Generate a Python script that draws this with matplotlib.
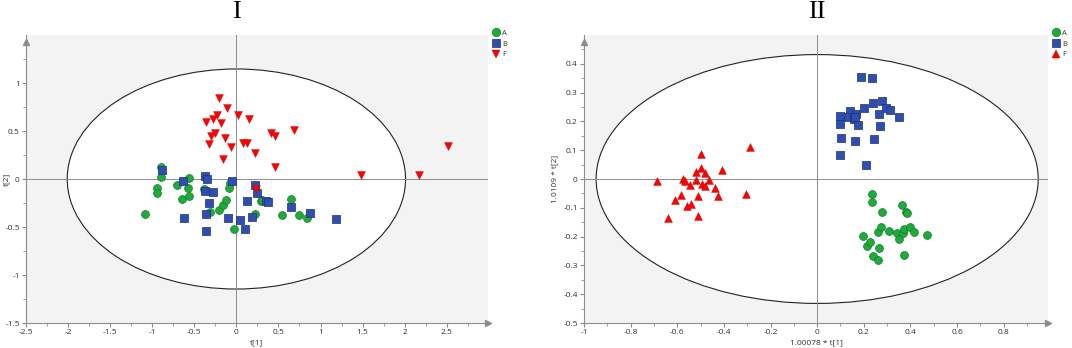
import matplotlib
matplotlib.use("Agg")
import matplotlib.pyplot as plt
from matplotlib.patches import Ellipse
from matplotlib.lines import Line2D

plt.rcParams.update({
    "font.family": ["Open Sans", "DejaVu Sans"],
    "font.size": 6,
    "xtick.labelsize": 6,
    "ytick.labelsize": 6,
})

# ---- data: panel I (PCA t[1] vs t[2]) ----
p1_a_x = [-0.90, -0.90, -0.94, -0.94, -1.08, -0.71, -0.56, -0.58, -0.65, -0.56, -0.38, -0.31, -0.21,
          -0.16, -0.12, -0.08, -0.09, -0.03, 0.22, 0.29, 0.31, 0.65, 0.54, 0.75, 0.84]
p1_a_y = [0.12, 0.02, -0.09, -0.15, -0.36, -0.06, 0.01, -0.09, -0.21, -0.18, -0.10, -0.34, -0.32,
          -0.27, -0.22, -0.04, -0.09, -0.52, -0.36, -0.23, -0.22, -0.21, -0.38, -0.38, -0.41]
p1_b_x = [-0.88, -0.63, -0.37, -0.35, -0.37, -0.28, -0.32, -0.36, -0.62, -0.36, -0.10, 0.04, 0.10,
          0.19, 0.13, -0.05, 0.22, 0.25, 0.35, 0.37, 0.65, 0.87, 1.18]
p1_b_y = [0.09, -0.02, 0.03, 0.00, -0.13, -0.14, -0.25, -0.36, -0.41, -0.54, -0.41, -0.43, -0.52,
          -0.40, -0.23, -0.02, -0.06, -0.15, -0.23, -0.24, -0.29, -0.35, -0.42]
p1_f_x = [-0.21, -0.11, 0.02, -0.23, -0.36, -0.28, -0.18, 0.15, -0.30, -0.25, -0.13, -0.33, -0.06,
          0.08, 0.13, 0.22, -0.16, 0.41, 0.46, 0.69, 0.46, 1.48, 2.17, 2.51, 0.23]
p1_f_y = [0.84, 0.74, 0.67, 0.67, 0.59, 0.63, 0.58, 0.63, 0.45, 0.48, 0.43, 0.36, 0.33,
          0.37, 0.38, 0.27, 0.21, 0.48, 0.45, 0.51, 0.12, 0.045, 0.04, 0.34, -0.10]

# ---- data: panel II (OPLS-DA scaled scores) ----
p2_a_x = [0.236, 0.236, 0.276, 0.365, 0.379, 0.386, 0.196, 0.213, 0.227, 0.266, 0.239, 0.263,
          0.262, 0.275, 0.307, 0.342, 0.353, 0.370, 0.374, 0.400, 0.417, 0.470, 0.374]
p2_a_y = [-0.052, -0.080, -0.113, -0.092, -0.116, -0.118, -0.197, -0.231, -0.219, -0.239, -0.267,
          -0.281, -0.184, -0.168, -0.182, -0.186, -0.209, -0.186, -0.174, -0.165, -0.184, -0.196, -0.264]
p2_b_x = [0.189, 0.236, 0.279, 0.240, 0.201, 0.296, 0.314, 0.264, 0.353, 0.139, 0.167, 0.127,
          0.100, 0.156, 0.163, 0.100, 0.174, 0.269, 0.103, 0.164, 0.243, 0.100, 0.211]
p2_b_y = [0.353, 0.349, 0.272, 0.263, 0.245, 0.245, 0.241, 0.226, 0.216, 0.235, 0.226, 0.216,
          0.218, 0.209, 0.216, 0.191, 0.187, 0.185, 0.143, 0.133, 0.139, 0.085, 0.050]
p2_f_x = [-0.687, -0.640, -0.610, -0.585, -0.575, -0.567, -0.546, -0.557, -0.540, -0.520, -0.520,
          -0.500, -0.500, -0.510, -0.510, -0.494, -0.483, -0.483, -0.466, -0.440, -0.426, -0.407,
          -0.307, -0.287]
p2_f_y = [-0.006, -0.134, -0.072, -0.057, 0.001, -0.006, -0.022, -0.095, -0.087, -0.003, 0.026,
          0.088, 0.038, -0.060, -0.128, -0.016, -0.026, 0.021, -0.005, -0.031, -0.060, 0.030,
          -0.052, 0.111]

C_A, E_A = "#1faa3c", "#137a28"
C_B, E_B = "#2f4fb0", "#1c3078"
C_F, E_F = "#ff0000", "#c00000"
BG = "#f3f3f3"
AXC = "#8c8c8c"


def setup(ax, xlim, ylim, xticks, yticks, xminor, yminor, ell_w, ell_h,
          xlabel, ylabel, ylab_x, title):
    ax.set_facecolor(BG)
    ax.add_patch(Ellipse((0, 0), 2 * ell_w, 2 * ell_h, facecolor="white",
                         edgecolor="#222222", lw=0.8, zorder=1))
    ax.axhline(0, color=AXC, lw=0.7, zorder=1.5)
    ax.axvline(0, color=AXC, lw=0.7, zorder=1.5)
    ax.set_xlim(*xlim)
    ax.set_ylim(*ylim)
    ax.set_xticks(xticks)
    ax.set_yticks(yticks)
    ax.set_xticks(xminor, minor=True)
    ax.set_yticks(yminor, minor=True)
    ax.set_xticklabels([f"{t:g}" for t in xticks])
    ax.set_yticklabels([f"{t:g}" for t in yticks])
    for s in ("top", "right"):
        ax.spines[s].set_visible(False)
    for s in ("left", "bottom"):
        ax.spines[s].set_color(AXC)
        ax.spines[s].set_linewidth(0.8)
    ax.tick_params(which="both", color=AXC, labelcolor="#333333", direction="out")
    ax.tick_params(which="major", length=3, pad=1.5)
    ax.tick_params(which="minor", length=2)
    ax.plot(1, 0, ">", transform=ax.transAxes, color=AXC, ms=4, clip_on=False, zorder=5)
    ax.plot(0, 0.975, "^", transform=ax.transAxes, color=AXC, ms=4, clip_on=False, zorder=5)
    ax.set_xlabel(xlabel, labelpad=2, color="#333333")
    ax.set_ylabel(ylabel, color="#333333")
    ax.yaxis.set_label_coords(ylab_x, 0.5)
    ax.text(0, 1.08, title, transform=ax.get_xaxis_transform(), ha="center", va="center",
            fontsize=19, family=["Liberation Serif", "DejaVu Serif"])


fig = plt.figure(figsize=(10.72, 3.48), dpi=100)
W, H = 1072, 348
ax1 = fig.add_axes([26 / W, 25 / H, 462 / W, 288 / H])
ax2 = fig.add_axes([584 / W, 25 / H, 464 / W, 288 / H])

setup(ax1, (-2.5, 2.99), (-1.5, 1.5),
      [-2.5, -2, -1.5, -1, -0.5, 0, 0.5, 1, 1.5, 2, 2.5],
      [-1.5, -1, -0.5, 0, 0.5, 1],
      [-2.25, -1.75, -1.25, -0.75, -0.25, 0.25, 0.75, 1.25, 1.75, 2.25, 2.75],
      [-1.25, -0.75, -0.25, 0.25, 0.75, 1.25],
      2.01, 1.146, "t[1]", "t[2]", -0.035, "I")
setup(ax2, (-1.0, 0.99), (-0.5, 0.5),
      [-1, -0.8, -0.6, -0.4, -0.2, 0, 0.2, 0.4, 0.6, 0.8],
      [-0.5, -0.4, -0.3, -0.2, -0.1, 0, 0.1, 0.2, 0.3, 0.4],
      [-0.9, -0.7, -0.5, -0.3, -0.1, 0.1, 0.3, 0.5, 0.7, 0.9],
      [-0.45, -0.35, -0.25, -0.15, -0.05, 0.05, 0.15, 0.25, 0.35, 0.45],
      0.948, 0.432, "1.00078 * t[1]", "1.0109 * t[2]", -0.055, "II")

ms = 32
ax1.scatter(p1_a_x, p1_a_y, s=ms, marker="o", c=C_A, edgecolors=E_A, linewidths=0.5, zorder=3)
ax1.scatter(p1_b_x, p1_b_y, s=ms, marker="s", c=C_B, edgecolors=E_B, linewidths=0.5, zorder=3)
ax1.scatter(p1_f_x, p1_f_y, s=ms, marker="v", c=C_F, edgecolors=E_F, linewidths=0.3, zorder=3)
ax2.scatter(p2_a_x, p2_a_y, s=ms, marker="o", c=C_A, edgecolors=E_A, linewidths=0.5, zorder=3)
ax2.scatter(p2_b_x, p2_b_y, s=ms, marker="s", c=C_B, edgecolors=E_B, linewidths=0.5, zorder=3)
ax2.scatter(p2_f_x, p2_f_y, s=ms, marker="^", c=C_F, edgecolors=E_F, linewidths=0.3, zorder=3)


def legend(ax, fmark):
    handles = [
        Line2D([], [], ls="", marker="o", ms=6, mfc=C_A, mec=E_A, mew=0.5, label="A"),
        Line2D([], [], ls="", marker="s", ms=5.5, mfc=C_B, mec=E_B, mew=0.5, label="B"),
        Line2D([], [], ls="", marker=fmark, ms=6, mfc=C_F, mec=E_F, mew=0.3, label="F"),
    ]
    ax.legend(handles=handles, loc="upper left", bbox_to_anchor=(1.005, 1.03), frameon=False,
              fontsize=5.5, handlelength=0.8, handletextpad=0.3, labelspacing=0.45,
              borderaxespad=0, labelcolor="#333333")


legend(ax1, "v")
legend(ax2, "^")

fig.savefig("out.png", dpi=100)
